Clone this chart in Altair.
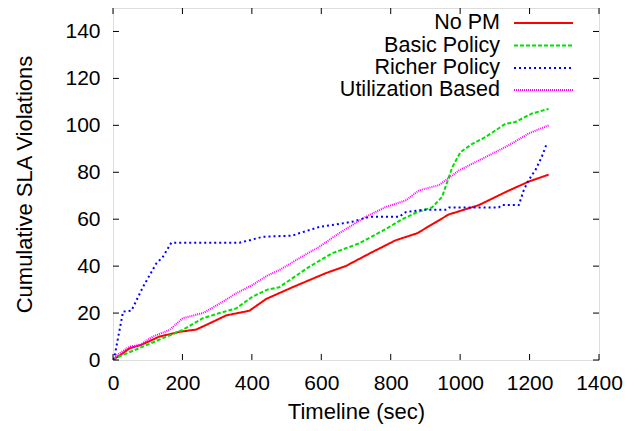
import altair as alt
import pandas as pd

series_names = ["No PM", "Basic Policy", "Richer Policy", "Utilization Based"]
series_colors = ["#ff0000", "#00e000", "#0000ff", "#ff00ff"]
series_dash = [[1, 0], [4, 2], [2, 3], [1, 1]]

nopm_x = [0, 20, 48, 82, 134, 192, 240, 278, 326, 393, 441, 517, 613, 670, 747, 814, 876, 967, 1054, 1130, 1197, 1255]
nopm_y = [0, 2, 5, 6.5, 10, 12, 13, 15.6, 19, 21, 26, 31, 37, 40, 46, 51, 54, 62, 66, 71.5, 76, 79]

basic_x = [0, 10, 86, 144, 201, 259, 307, 355, 402, 445, 479, 565, 632, 709, 776, 834, 876, 919, 948, 977, 1001, 1034, 1073, 1130, 1159, 1206, 1255]
basic_y = [0, 1, 5.7, 9.3, 12.8, 17.8, 20, 22, 27, 30, 31, 39.7, 45.5, 49.7, 55, 60, 63, 65, 69.5, 82, 88.6, 92, 95, 100.6, 101.4, 105, 107]

richer_x = [0, 5, 29, 53, 86, 124, 144, 168, 364, 393, 431, 517, 536, 594, 651, 689, 738, 824, 843, 891, 958, 968, 1111, 1120, 1169, 1183, 1197, 1217, 1235, 1249]
richer_y = [0, 2, 20.6, 21, 31, 41, 44, 50, 50, 51, 52.5, 53, 54, 56.7, 58, 58.9, 61, 61, 63, 64, 64, 65, 65, 66, 66, 72.3, 76.6, 81, 86.5, 92]

util_x = [0, 10, 48, 77, 115, 163, 201, 259, 307, 355, 402, 445, 479, 536, 594, 651, 728, 786, 843, 882, 939, 997, 1083, 1140, 1197, 1255]
util_y = [0, 2, 5.7, 6.4, 10, 12.8, 17.8, 20, 24, 28.4, 32, 36, 38.3, 43.3, 48.2, 54, 61, 65.2, 68, 72.3, 74.5, 80.8, 87.2, 91.5, 96.5, 100]

x_ticks = [0, 200, 400, 600, 800, 1000, 1200, 1400]
y_ticks = [0, 20, 40, 60, 80, 100, 120, 140]

W, H = 486, 352
FONT = "Liberation Sans"
LABEL_SIZE = 21
TITLE_SIZE = 22
LEGEND_SIZE = 21.5

xs = [nopm_x, basic_x, richer_x, util_x]
ys = [nopm_y, basic_y, richer_y, util_y]

xscale = alt.Scale(domain=[0, 1400], nice=False, zero=False)
yscale = alt.Scale(domain=[0, 150], nice=False, zero=False)
common = dict(ticks=False, domain=False, grid=False, labelFontSize=LABEL_SIZE,
              titleFontSize=TITLE_SIZE, labelFont=FONT, titleFont=FONT, labelOverlap=False,
              labelFlush=False, titleFontWeight="normal", labelColor="black",
              titleColor="black", format="d")
ax_x = alt.Axis(title="Timeline (sec)", values=x_ticks, labelPadding=12, titlePadding=8, **common)
ax_y = alt.Axis(title="Cumulative SLA Violations", values=y_ticks, labelPadding=13,
                titlePadding=28, **common)

layers = []
for i, name in enumerate(series_names):
    df = pd.DataFrame({"t": xs[i], "v": ys[i], "idx": list(range(len(xs[i])))})
    line = alt.Chart(df).mark_line(
        color=series_colors[i], strokeWidth=2, strokeDash=series_dash[i], clip=True
    ).encode(
        x=alt.X("t:Q", scale=xscale, axis=ax_x),
        y=alt.Y("v:Q", scale=yscale, axis=ax_y),
        order="idx:Q",
    )
    layers.append(line)

xt = pd.DataFrame({"t": x_ticks})
yt = pd.DataFrame({"v": y_ticks})
tick_style = dict(color="black", strokeWidth=1)
layers.append(alt.Chart(xt).mark_rule(**tick_style).encode(
    x=alt.X("t:Q", scale=xscale, axis=ax_x), y=alt.value(H), y2=alt.value(H - 6)))
layers.append(alt.Chart(xt).mark_rule(**tick_style).encode(
    x=alt.X("t:Q", scale=xscale, axis=ax_x), y=alt.value(0), y2=alt.value(6)))
layers.append(alt.Chart(yt).mark_rule(**tick_style).encode(
    y=alt.Y("v:Q", scale=yscale, axis=ax_y), x=alt.value(0), x2=alt.value(6)))
layers.append(alt.Chart(yt).mark_rule(**tick_style).encode(
    y=alt.Y("v:Q", scale=yscale, axis=ax_y), x=alt.value(W - 6), x2=alt.value(W)))

leg_df = pd.DataFrame({"name": series_names})
leg_rows = [15, 37.5, 60, 82]
for i, name in enumerate(series_names):
    sub = alt.Chart(leg_df).transform_filter(alt.datum.name == name)
    layers.append(sub.mark_text(align="right", baseline="middle", fontSize=LEGEND_SIZE, font=FONT,
                                color="black").encode(
        text="name:N", x=alt.value(387), y=alt.value(leg_rows[i])))
    layers.append(sub.mark_rule(color=series_colors[i], strokeWidth=2,
                                strokeDash=series_dash[i]).encode(
        x=alt.value(401), x2=alt.value(460), y=alt.value(leg_rows[i])))

chart = alt.layer(*layers).properties(
    width=W, height=H,
    autosize=alt.AutoSizeParams(type="none"),
    padding={"left": 105, "top": 0, "right": 30, "bottom": 70},
).configure_view(
    stroke="black", strokeWidth=1.5
).configure(font=FONT, background="white")

chart.save("out.html", embed_options={"renderer": "svg", "actions": False})
